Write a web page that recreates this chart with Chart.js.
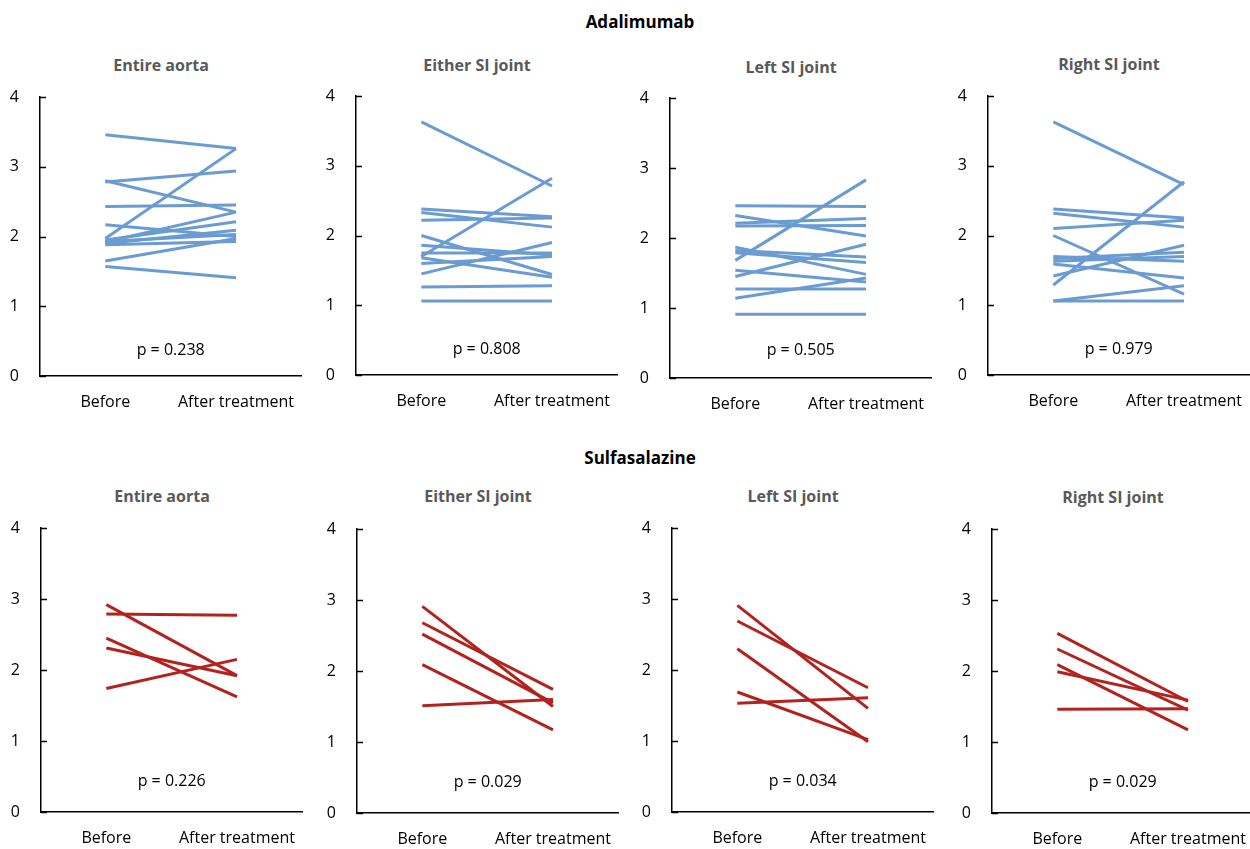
<!DOCTYPE html>
<html>
<head>
<meta charset="utf-8">
<script src="https://cdn.jsdelivr.net/npm/chart.js@4.4.1/dist/chart.umd.min.js"></script>
<style>
body { margin: 0; width: 1250px; height: 849px; background: #fff; overflow: hidden; position: relative; font-family: "Open Sans", sans-serif; }
canvas { position: absolute; }
.grupo { position: absolute; width: 300px; text-align: center; font-weight: bold; font-size: 17px; color: #000; line-height: 24px; }
.titulo { position: absolute; width: 242px; text-align: center; font-weight: bold; font-size: 16px; color: #595959; line-height: 22px; }
</style>
</head>
<body>
<div class="grupo" style="left:490px; top:10px">Adalimumab</div>
<div class="grupo" style="left:490px; top:446px">Sulfasalazine</div>

<script>
// Datos
var categorias = ['Before', 'After treatment'];
var titulos = ['Entire aorta', 'Either SI joint', 'Left SI joint', 'Right SI joint'];

// Adalimumab
var adaAortaAntes = [3.46, 1.97, 2.78, 2.80, 2.43, 2.17, 1.65, 1.57, 1.92, 1.95, 1.90, 1.88, 1.93];
var adaAortaDespues = [3.26, 3.26, 2.94, 2.35, 2.45, 2.00, 1.97, 1.41, 2.35, 2.21, 2.09, 1.93, 2.03];
var adaEitherAntes = [3.63, 1.70, 2.38, 2.33, 2.22, 2.00, 1.86, 1.75, 1.68, 1.60, 1.45, 1.26, 1.06];
var adaEitherDespues = [2.71, 2.82, 2.27, 2.12, 2.25, 1.44, 1.72, 1.75, 1.40, 1.70, 1.90, 1.28, 1.06];
var adaLeftAntes = [2.46, 1.68, 2.32, 2.21, 2.17, 1.87, 1.82, 1.79, 1.54, 1.45, 1.27, 1.14, 0.91];
var adaLeftDespues = [2.45, 2.83, 2.03, 2.28, 2.18, 1.48, 1.73, 1.65, 1.37, 1.91, 1.27, 1.43, 0.91];
var adaRightAntes = [3.63, 1.29, 2.38, 2.32, 2.10, 2.00, 1.70, 1.67, 1.63, 1.59, 1.42, 1.06, 1.06];
var adaRightDespues = [2.73, 2.77, 2.25, 2.12, 2.22, 1.16, 1.63, 1.76, 1.70, 1.39, 1.86, 1.28, 1.06];

// Sulfasalazine
var sulAortaAntes = [2.79, 2.92, 2.45, 2.31, 1.74];
var sulAortaDespues = [2.77, 1.92, 1.62, 1.92, 2.15];
var sulEitherAntes = [2.91, 2.68, 2.52, 2.09, 1.51];
var sulEitherDespues = [1.50, 1.74, 1.55, 1.17, 1.60];
var sulLeftAntes = [2.91, 2.69, 2.30, 1.69, 1.53];
var sulLeftDespues = [1.46, 1.75, 0.99, 1.02, 1.61];
var sulRightAntes = [2.53, 2.31, 2.09, 1.99, 1.46];
var sulRightDespues = [1.57, 1.45, 1.17, 1.59, 1.47];

var pValores = ['p = 0.238', 'p = 0.808', 'p = 0.505', 'p = 0.979',
                'p = 0.226', 'p = 0.029', 'p = 0.034', 'p = 0.029'];

var antes = [adaAortaAntes, adaEitherAntes, adaLeftAntes, adaRightAntes,
             sulAortaAntes, sulEitherAntes, sulLeftAntes, sulRightAntes];
var despues = [adaAortaDespues, adaEitherDespues, adaLeftDespues, adaRightDespues,
               sulAortaDespues, sulEitherDespues, sulLeftDespues, sulRightDespues];

// Posicion de cada panel (eje y en x, arriba = valor 4, abajo = valor 0)
var paneles = [
    { x: 40, top: 97, bottom: 376, tituloY: 54, pOff: 26 },
    { x: 356, top: 96, bottom: 375, tituloY: 54, pOff: 26 },
    { x: 670, top: 98, bottom: 378, tituloY: 56, pOff: 28 },
    { x: 988, top: 96, bottom: 375, tituloY: 53, pOff: 26 },
    { x: 41, top: 528, bottom: 812, tituloY: 485, pOff: 31 },
    { x: 357, top: 529, bottom: 813, tituloY: 485, pOff: 31 },
    { x: 672, top: 528, bottom: 812, tituloY: 485, pOff: 31 },
    { x: 992, top: 529, bottom: 813, tituloY: 486, pOff: 31 }
];

var azul = '#6A9BD2';
var rojo = '#B3231E';
var margenArriba = 30;
var altoEjeX = 45;

Chart.defaults.font.family = '"Open Sans", sans-serif';
Chart.defaults.font.size = 16;
Chart.defaults.color = '#000';

// Marcas del eje y hacia dentro
var ticksDentro = {
    id: 'ticksDentro',
    afterDraw: function(chart) {
        var ctx = chart.ctx;
        var y = chart.scales.y;
        var left = chart.chartArea.left;
        ctx.save();
        ctx.strokeStyle = '#000';
        ctx.lineWidth = 1.5;
        y.ticks.forEach(function(t) {
            var py = Math.round(y.getPixelForValue(t.value)) + 0.5;
            ctx.beginPath();
            ctx.moveTo(left, py);
            ctx.lineTo(left + 6, py);
            ctx.stroke();
        });
        ctx.restore();
    }
};

// Texto del valor p
var textoP = {
    id: 'textoP',
    afterDatasetsDraw: function(chart, args, opts) {
        var ctx = chart.ctx;
        var area = chart.chartArea;
        ctx.save();
        ctx.font = '16px "Open Sans", sans-serif';
        ctx.fillStyle = '#000';
        ctx.textAlign = 'center';
        ctx.textBaseline = 'middle';
        ctx.fillText(opts.text, (area.left + area.right) / 2, area.bottom - opts.offset);
        ctx.restore();
    }
};

function crearDatasets(a, d, color) {
    var ds = [];
    for (var i = 0; i < a.length; i++) {
        ds.push({
            data: [a[i], d[i]],
            borderColor: color,
            borderWidth: 3,
            pointRadius: 0,
            fill: false,
            tension: 0
        });
    }
    return ds;
}

function crearPanel(i) {
    var p = paneles[i];
    var color = i < 4 ? azul : rojo;

    var t = document.createElement('div');
    t.className = 'titulo';
    t.style.left = p.x + 'px';
    t.style.top = p.tituloY + 'px';
    t.textContent = titulos[i % 4];
    document.body.appendChild(t);

    var c = document.createElement('canvas');
    c.width = 303;
    c.height = (p.bottom - p.top) + margenArriba + altoEjeX;
    c.style.left = (p.x - 40) + 'px';
    c.style.top = (p.top - margenArriba) + 'px';
    document.body.appendChild(c);

    new Chart(c.getContext('2d'), {
        type: 'line',
        data: {
            labels: categorias,
            datasets: crearDatasets(antes[i], despues[i], color)
        },
        options: {
            responsive: false,
            animation: false,
            layout: { padding: { top: margenArriba, right: 0, bottom: 0, left: 0 } },
            plugins: {
                legend: { display: false },
                tooltip: { enabled: false },
                textoP: { text: pValores[i], offset: p.pOff }
            },
            scales: {
                x: {
                    offset: true,
                    grid: { display: false },
                    border: { display: true, color: '#000', width: 1.5 },
                    ticks: { padding: 9, maxRotation: 0, autoSkip: false },
                    afterFit: function(s) { s.height = altoEjeX; }
                },
                y: {
                    min: 0,
                    max: 4,
                    grid: { display: false },
                    border: { display: true, color: '#000', width: 1.5 },
                    ticks: { stepSize: 1, padding: 13 },
                    afterFit: function(s) { s.width = 40; }
                }
            }
        },
        plugins: [ticksDentro, textoP]
    });
}

for (var i = 0; i < paneles.length; i++) {
    crearPanel(i);
}
</script>
</body>
</html>
